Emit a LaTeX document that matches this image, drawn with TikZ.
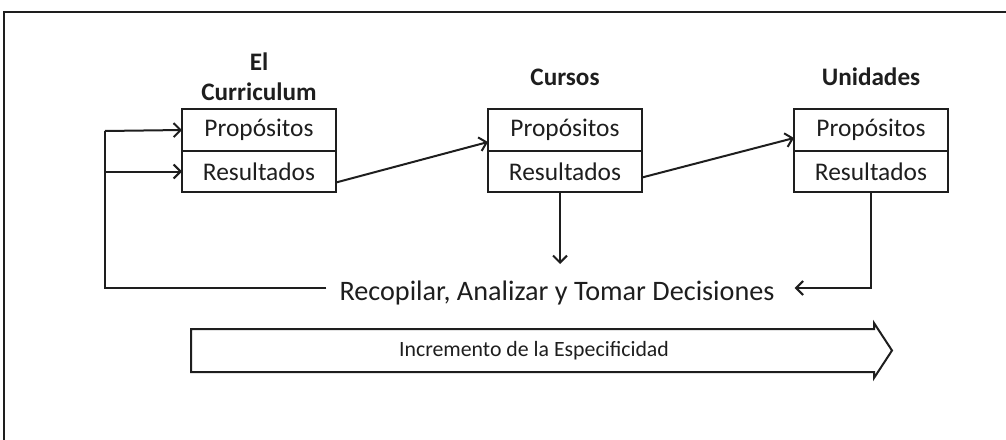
\documentclass[tikz,border=0pt]{standalone}
\usepackage{fontspec}
\setmainfont{Carlito}
\usetikzlibrary{arrows.meta}
\definecolor{ink}{HTML}{1E1E1E}
\tikzset{
  half/.style={draw=ink, line width=2pt, minimum width=154pt, minimum height=41.5pt, inner sep=0pt, outer sep=0pt, text=ink, font=\fontsize{25.4}{28}\selectfont},
  title/.style={text=ink, font=\fontsize{25.2}{30}\selectfont\bfseries, align=center, inner sep=0pt},
  conn/.style={draw=ink, line width=2pt},
  arr/.style={conn, -{Straight Barb[length=7pt,width=14pt,line width=2pt]}},
}
\begin{document}
\begin{tikzpicture}[x=1pt,y=-1pt]
\useasboundingbox (0,0) rectangle (1006,439);
% outer frame (cropped)
\draw[ink, line width=2.6pt] (1010,12) -- (4,12) -- (4,445);
% boxes
\node[half] (c1p) at (259,130) {Propósitos};
\node[half, anchor=north] (c1r) at (c1p.south) {Resultados};
\node[half] (c2p) at (565,130) {Propósitos};
\node[half, anchor=north] (c2r) at (c2p.south) {Resultados};
\node[half] (c3p) at (871,130) {Propósitos};
\node[half, anchor=north] (c3r) at (c3p.south) {Resultados};
% titles
\node[title] (t1) at (259,77) {El\\Curriculum};
\node[title] (t2) at (565,77) {Cursos};
\node[title] (t3) at (871,77) {Unidades};
% feedback text
\node[text=ink, font=\fontsize{28.2}{32}\selectfont, inner xsep=13pt, inner ysep=0pt] (rec) at (557,293) {Recopilar, Analizar y Tomar Decisiones};
\coordinate (recl) at ([yshift=5pt]rec.west);
\coordinate (recr) at ([xshift=7pt,yshift=5pt]rec.east);
\coordinate (fbl) at (105,131);
\coordinate (dn) at (560,264);
% connectors
\draw[arr] ([yshift=-11pt]c1r.east) -- ([yshift=-12pt]c2p.west);
\draw[arr] ([yshift=-6pt]c2r.east) -- ([yshift=-8pt]c3p.west);
\draw[arr] (c2r.south -| dn) -- (dn);
\draw[conn] (recl) -- (recl -| fbl) -- (fbl);
\draw[arr] (fbl) -- (c1p.west);
\draw[arr] (fbl |- c1r) -- (c1r.west);
\draw[arr] (c3r.south) -- (c3r.south |- recr) -- (recr);
% increasing-specificity arrow
\draw[ink, line width=2pt, line join=miter] (191,329) -- (874,329) -- (874,323) -- (892,350.5) -- (874,378) -- (874,372) -- (191,372) -- cycle;
\node[text=ink, font=\fontsize{21.8}{25}\selectfont, inner sep=0pt] (inc) at (534,351) {Incremento de la Especificidad};
\end{tikzpicture}
\end{document}
